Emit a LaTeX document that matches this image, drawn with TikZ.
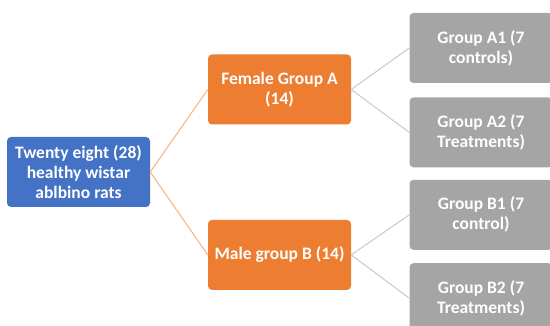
\documentclass[tikz,border=0pt]{standalone}
\usepackage{fontspec}
\setmainfont{Carlito}
\usetikzlibrary{positioning}

\definecolor{boxblue}{HTML}{4472C4}
\definecolor{boxorange}{HTML}{ED7D31}
\definecolor{boxgray}{HTML}{A5A5A5}
\definecolor{lineorange}{HTML}{F4B183}
\definecolor{linegray}{HTML}{C9C9C9}

\tikzset{
    groupbox/.style={rounded corners=4pt, minimum width=143pt, minimum height=70pt,
        align=center, text=white, font=\fontsize{17.5}{20}\selectfont\bfseries, inner sep=2pt},
    ratsbox/.style={groupbox, fill=boxblue},
    sexbox/.style={groupbox, fill=boxorange},
    subbox/.style={groupbox, fill=boxgray},
    orangelink/.style={draw=lineorange, line width=1pt},
    graylink/.style={draw=linegray, line width=1pt}
}

\begin{document}
\begin{tikzpicture}[x=1pt, y=-1pt]
\useasboundingbox (0,0) rectangle (550,326);
\clip (0,0) rectangle (550,326);

\node[ratsbox] at (78.5,172) (rats) {Twenty eight (28)\\healthy wistar\\ablbino rats};

\node[sexbox] at (279.5,89.5) (female) {Female Group A\\(14)};
\node[sexbox, below=95pt of female] (male) {Male group B (14)};

\node[subbox] at (481,48) (a1) {Group A1 (7\\controls)};
\node[subbox, below=14pt of a1] (a2) {Group A2 (7\\Treatments)};
\node[subbox, below=12pt of a2] (b1) {Group B1 (7\\control)};
\node[subbox, below=13pt of b1] (b2) {Group B2 (7\\Treatments)};

\draw[orangelink] (rats.east) -- (female.west);
\draw[orangelink] (rats.east) -- (male.west);

\draw[graylink] (female.east) -- (a1.west);
\draw[graylink] (female.east) -- (a2.west);
\draw[graylink] (male.east) -- (b1.west);
\draw[graylink] (male.east) -- (b2.west);
\end{tikzpicture}
\end{document}
